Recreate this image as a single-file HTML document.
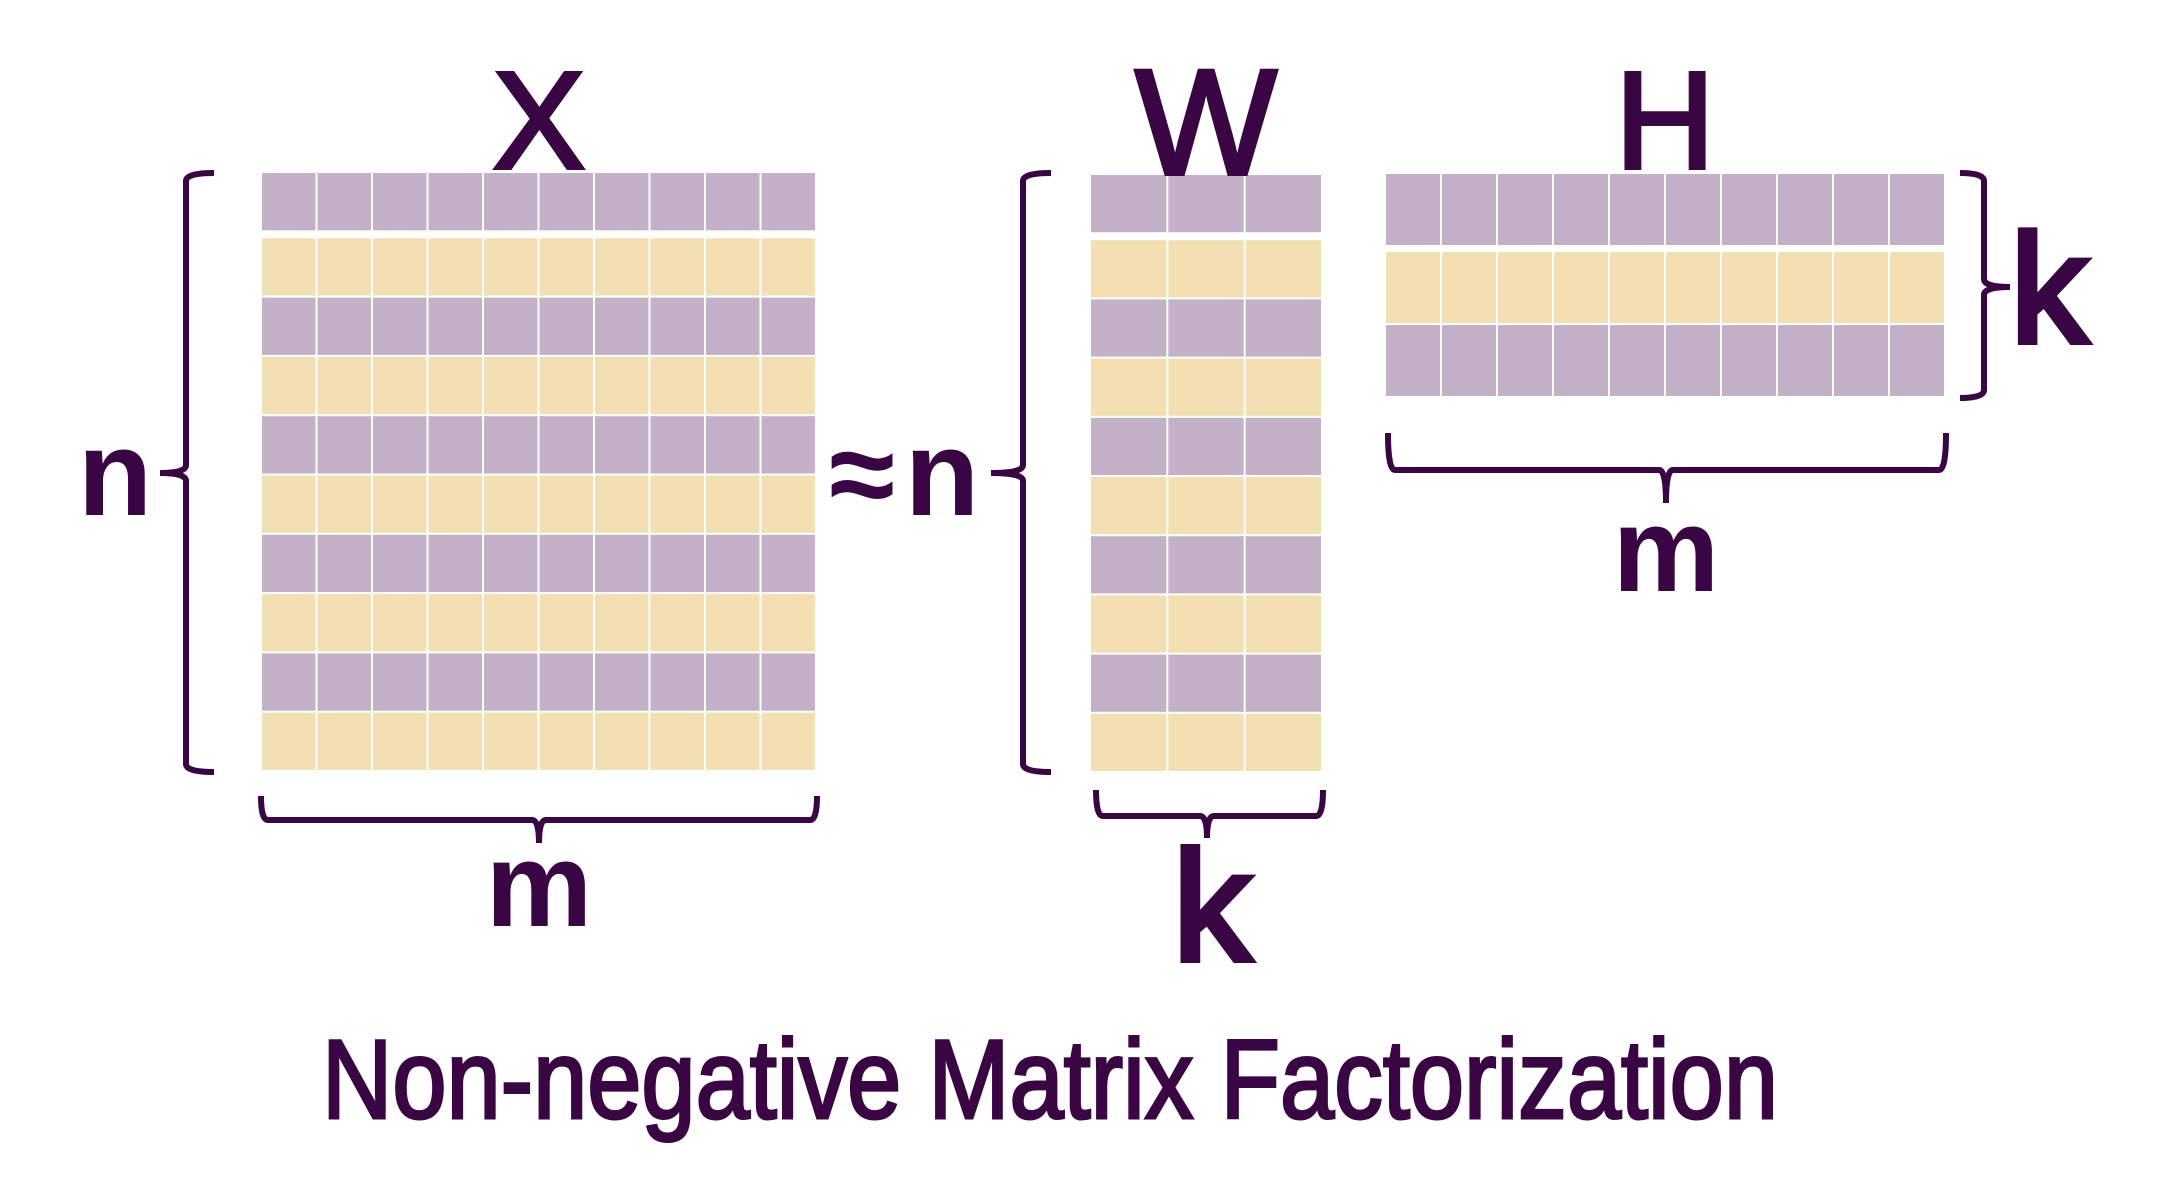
<!DOCTYPE html>
<html><head><meta charset="utf-8"><style>
html,body{margin:0;padding:0;background:#fff;}
svg{display:block;}
text{font-family:"Liberation Sans",sans-serif;fill:#3a0543;}
</style></head>
<body>
<svg id="chart" width="2158" height="1182" viewBox="0 0 2158 1182">
<g id="cells"></g>
<g fill="none" stroke="#3a0543" stroke-width="6" stroke-linecap="butt">
 <path d="M214,173 Q186,173 186,181 L186,465 Q186,473 160,473 Q186,473 186,481 L186,764 Q186,772 214,772"/>
 <path d="M261,796 Q261,820 268,820 L532,820 Q539,820 539,843 Q539,820 546,820 L810,820 Q817,820 817,796"/>
 <path d="M1051,173 Q1023,173 1023,181 L1023,465 Q1023,473 991,473 Q1023,473 1023,481 L1023,764 Q1023,772 1051,772"/>
 <path d="M1096,790 Q1096,816 1103,816 L1200,816 Q1207,816 1207,838 Q1207,816 1214,816 L1316,816 Q1323,816 1323,790"/>
 <path d="M1960,173 Q1984,173 1984,181 L1984,279 Q1984,287 2010,287 Q1984,287 1984,295 L1984,390 Q1984,398 1960,398"/>
 <path d="M1388,433 Q1388,470 1395,470 L1659,470 Q1666,470 1666,503 Q1666,470 1673,470 L1939,470 Q1946,470 1946,433"/>
</g>
<text x="539" y="168" font-size="138" text-anchor="middle" stroke="#3a0543" stroke-width="4">X</text>
<text x="1206" y="174" font-size="150" text-anchor="middle" stroke="#3a0543" stroke-width="4">W</text>
<text x="1665" y="168" font-size="138" text-anchor="middle" stroke="#3a0543" stroke-width="4">H</text>
<text x="115" y="515" font-size="122" font-weight="bold" text-anchor="middle">n</text>
<text x="862" y="515" font-size="120" font-weight="bold" text-anchor="middle">≈</text>
<text x="942" y="515" font-size="122" font-weight="bold" text-anchor="middle">n</text>
<text x="539" y="926" font-size="120" font-weight="bold" text-anchor="middle">m</text>
<text x="1212" y="960" font-size="156" text-anchor="middle" stroke="#3a0543" stroke-width="6">k</text>
<text x="2049" y="342" font-size="154" text-anchor="middle" stroke="#3a0543" stroke-width="6">k</text>
<text x="1666" y="591" font-size="120" font-weight="bold" text-anchor="middle">m</text>
<text x="322" y="1118" font-size="112" textLength="1456" lengthAdjust="spacingAndGlyphs" stroke="#3a0543" stroke-width="3">Non-negative Matrix Factorization</text>
</svg>
<script>
const matrixNames = ['X','W','H'];
const matrixRows = [10, 10, 3];
const matrixCols = [10, 3, 10];
const rowColors = ['#c3b1c8', '#f2dfb2'];
const boxes = {
  X:{x0:262,x1:817,y0:173,y1:772,firstGap:6},
  W:{x0:1091,x1:1323,y0:175,y1:773,firstGap:6},
  H:{x0:1386,x1:1946,y0:174,y1:398,firstGap:5}
};
const g = document.getElementById('cells');
const NS = 'http://www.w3.org/2000/svg';
matrixNames.forEach((name, mi) => {
  const b = boxes[name];
  const R = matrixRows[mi], C = matrixCols[mi];
  const cw = (b.x1 - b.x0) / C;
  const rh = (b.y1 - b.y0 - b.firstGap) / R;
  for (let r = 0; r < R; r++) {
    const y = b.y0 + r * rh + (r > 0 ? b.firstGap : 0);
    for (let c = 0; c < C; c++) {
      const rect = document.createElementNS(NS, 'rect');
      rect.setAttribute('x', b.x0 + c * cw);
      rect.setAttribute('y', y);
      rect.setAttribute('width', cw - 2);
      rect.setAttribute('height', rh - 2);
      rect.setAttribute('fill', rowColors[r % 2]);
      
      
      g.appendChild(rect);
    }
  }
});
</script>
</body></html>
